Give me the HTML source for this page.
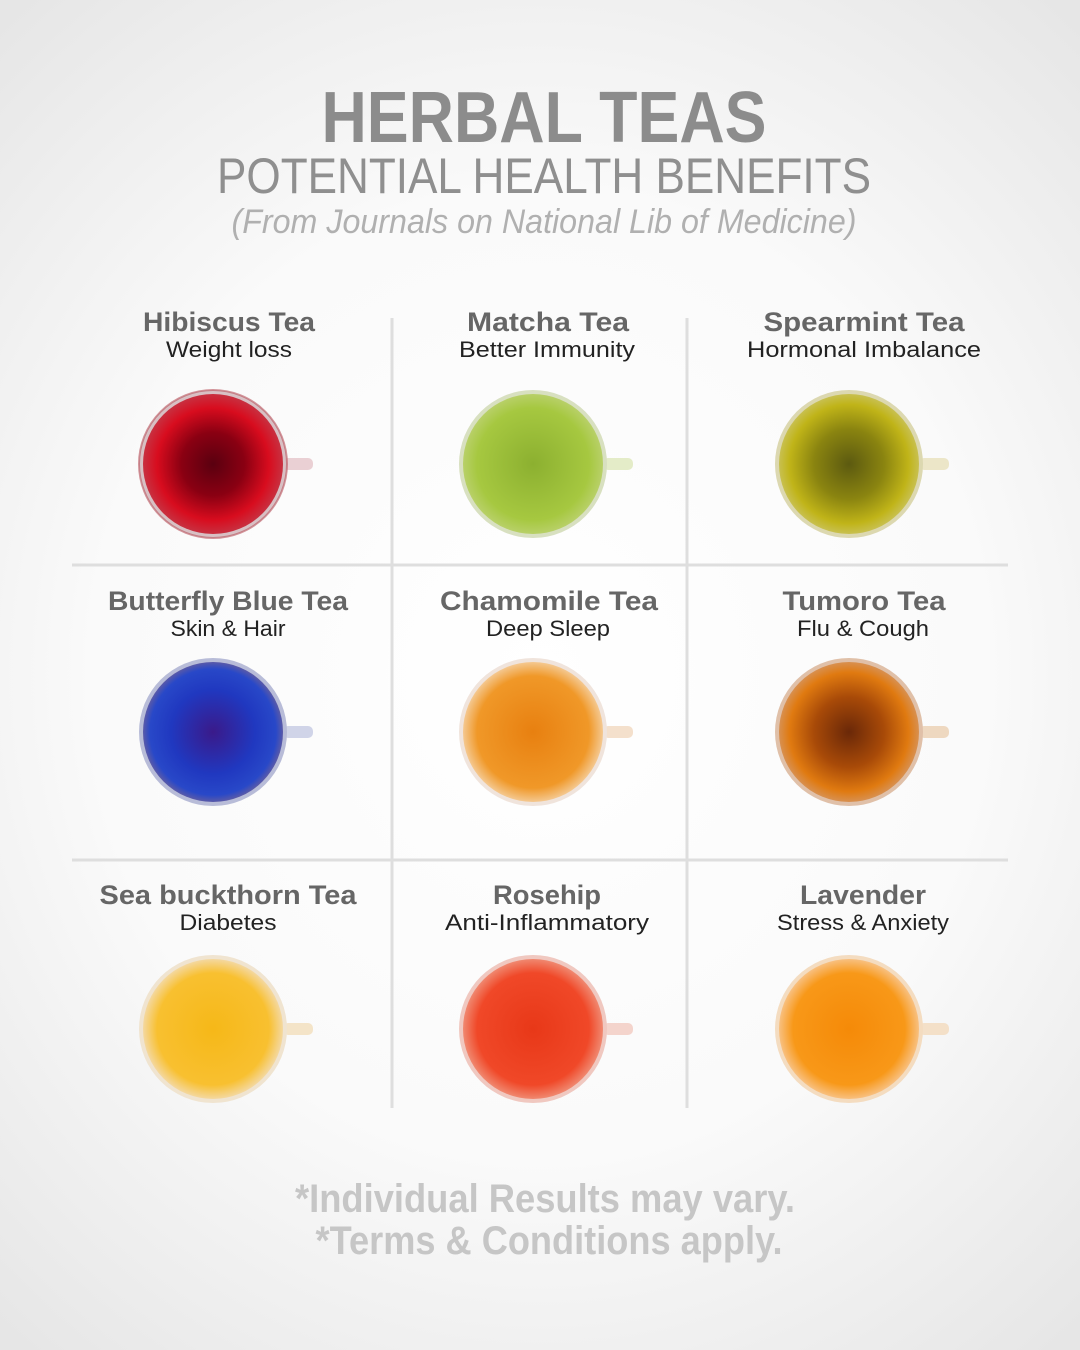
<!DOCTYPE html>
<html><head><meta charset="utf-8"><style>
html,body{margin:0;padding:0;}
body{width:1080px;height:1350px;overflow:hidden;background:radial-gradient(ellipse 75% 65% at 50% 50%,#ffffff 0%,#fafafa 55%,#e6e6e6 100%);}
svg{display:block;}
</style></head><body>
<svg width="1080" height="1350" viewBox="0 0 1080 1350" xmlns="http://www.w3.org/2000/svg" font-family="Liberation Sans, sans-serif">
<defs>
<radialGradient id="g1" cx="50%" cy="50%" r="50%"><stop offset="0" stop-color="#5a0010"/><stop offset="0.45" stop-color="#8a0012"/><stop offset="0.8" stop-color="#d80c1e"/><stop offset="1" stop-color="#c83040"/></radialGradient>
<radialGradient id="g2" cx="50%" cy="50%" r="50%"><stop offset="0" stop-color="#8cb030"/><stop offset="0.8" stop-color="#a6c840"/><stop offset="1" stop-color="#b8d068"/></radialGradient>
<radialGradient id="g3" cx="50%" cy="50%" r="50%"><stop offset="0" stop-color="#5c5a10"/><stop offset="0.5" stop-color="#8a8410"/><stop offset="0.85" stop-color="#c0b418"/><stop offset="1" stop-color="#c8c050"/></radialGradient>
<radialGradient id="g4" cx="50%" cy="50%" r="50%"><stop offset="0" stop-color="#3a1a8a"/><stop offset="0.6" stop-color="#2038c0"/><stop offset="0.9" stop-color="#2848c8"/><stop offset="1" stop-color="#5a5aa8"/></radialGradient>
<radialGradient id="g5" cx="50%" cy="50%" r="50%"><stop offset="0" stop-color="#e88010"/><stop offset="0.8" stop-color="#f09828"/><stop offset="1" stop-color="#f4c890"/></radialGradient>
<radialGradient id="g6" cx="50%" cy="50%" r="50%"><stop offset="0" stop-color="#6a2808"/><stop offset="0.5" stop-color="#a84a08"/><stop offset="0.85" stop-color="#e07a10"/><stop offset="1" stop-color="#d89050"/></radialGradient>
<radialGradient id="g7" cx="50%" cy="50%" r="50%"><stop offset="0" stop-color="#f6b818"/><stop offset="0.8" stop-color="#f8c030"/><stop offset="1" stop-color="#f4d8a0"/></radialGradient>
<radialGradient id="g8" cx="50%" cy="50%" r="50%"><stop offset="0" stop-color="#e83818"/><stop offset="0.8" stop-color="#f04828"/><stop offset="1" stop-color="#f08870"/></radialGradient>
<radialGradient id="g9" cx="50%" cy="50%" r="50%"><stop offset="0" stop-color="#f58a08"/><stop offset="0.8" stop-color="#f89818"/><stop offset="1" stop-color="#f8c080"/></radialGradient>
</defs>

<text x="544" y="142" text-anchor="middle" font-size="72" font-weight="bold" fill="#8c8c8c" textLength="445" lengthAdjust="spacingAndGlyphs">HERBAL TEAS</text>
<text x="544" y="193" text-anchor="middle" font-size="50" fill="#8f8f8f" textLength="654" lengthAdjust="spacingAndGlyphs">POTENTIAL HEALTH BENEFITS</text>
<text x="544" y="233" text-anchor="middle" font-size="34" font-style="italic" fill="#b0b0b0" textLength="625" lengthAdjust="spacingAndGlyphs">(From Journals on National Lib of Medicine)</text>

<g stroke="#dedede" stroke-width="3">
<line x1="392" y1="318" x2="392" y2="1108"/>
<line x1="687" y1="318" x2="687" y2="1108"/>
<line x1="72" y1="565" x2="1008" y2="565"/>
<line x1="72" y1="860" x2="1008" y2="860"/>
</g>

<g font-weight="bold" font-size="27" fill="#666" text-anchor="middle">
<text x="229" y="331" textLength="172" lengthAdjust="spacingAndGlyphs">Hibiscus Tea</text>
<text x="548" y="331" textLength="162" lengthAdjust="spacingAndGlyphs">Matcha Tea</text>
<text x="864" y="331" textLength="201" lengthAdjust="spacingAndGlyphs">Spearmint Tea</text>
<text x="228" y="610" textLength="240" lengthAdjust="spacingAndGlyphs">Butterfly Blue Tea</text>
<text x="549" y="610" textLength="218" lengthAdjust="spacingAndGlyphs">Chamomile Tea</text>
<text x="864" y="610" textLength="163" lengthAdjust="spacingAndGlyphs">Tumoro Tea</text>
<text x="228" y="904" textLength="257" lengthAdjust="spacingAndGlyphs">Sea buckthorn Tea</text>
<text x="547" y="904" textLength="108" lengthAdjust="spacingAndGlyphs">Rosehip</text>
<text x="863" y="904" textLength="126" lengthAdjust="spacingAndGlyphs">Lavender</text>
</g>
<g font-size="22" fill="#222" text-anchor="middle">
<text x="229" y="357" textLength="126" lengthAdjust="spacingAndGlyphs">Weight loss</text>
<text x="547" y="357" textLength="176" lengthAdjust="spacingAndGlyphs">Better Immunity</text>
<text x="864" y="357" textLength="234" lengthAdjust="spacingAndGlyphs">Hormonal Imbalance</text>
<text x="228" y="636" textLength="115" lengthAdjust="spacingAndGlyphs">Skin &amp; Hair</text>
<text x="548" y="636" textLength="124" lengthAdjust="spacingAndGlyphs">Deep Sleep</text>
<text x="863" y="636" textLength="132" lengthAdjust="spacingAndGlyphs">Flu &amp; Cough</text>
<text x="228" y="930" textLength="97" lengthAdjust="spacingAndGlyphs">Diabetes</text>
<text x="547" y="930" textLength="204" lengthAdjust="spacingAndGlyphs">Anti-Inflammatory</text>
<text x="863" y="930" textLength="172" lengthAdjust="spacingAndGlyphs">Stress &amp; Anxiety</text>
</g>

<!-- cups -->
<g id="cups">
<g transform="translate(213,464)"><rect x="70" y="-6" width="30" height="12" rx="5" fill="#ead0d4"/><circle r="74" fill="#d8c0c4"/><circle r="70" fill="url(#g1)"/><circle r="74" fill="none" stroke="#b8505a" stroke-width="2" opacity=".6"/></g>
<g transform="translate(533,464)"><rect x="70" y="-6" width="30" height="12" rx="5" fill="#e4ecc8"/><circle r="74" fill="#d8e0c0"/><circle r="70" fill="url(#g2)"/></g>
<g transform="translate(849,464)"><rect x="70" y="-6" width="30" height="12" rx="5" fill="#ece6c8"/><circle r="74" fill="#dcd8b0"/><circle r="70" fill="url(#g3)"/></g>
<g transform="translate(213,732)"><rect x="70" y="-6" width="30" height="12" rx="5" fill="#d0d4e8"/><circle r="74" fill="#b8bcd8"/><circle r="70" fill="url(#g4)"/></g>
<g transform="translate(533,732)"><rect x="70" y="-6" width="30" height="12" rx="5" fill="#f4e0cc"/><circle r="74" fill="#f0e4dc"/><circle r="70" fill="url(#g5)"/></g>
<g transform="translate(849,732)"><rect x="70" y="-6" width="30" height="12" rx="5" fill="#eed8c0"/><circle r="74" fill="#e0c0a8"/><circle r="70" fill="url(#g6)"/></g>
<g transform="translate(213,1029)"><rect x="70" y="-6" width="30" height="12" rx="5" fill="#f4e4c8"/><circle r="74" fill="#f0e4d0"/><circle r="70" fill="url(#g7)"/></g>
<g transform="translate(533,1029)"><rect x="70" y="-6" width="30" height="12" rx="5" fill="#f4d4cc"/><circle r="74" fill="#f0c8c0"/><circle r="70" fill="url(#g8)"/></g>
<g transform="translate(849,1029)"><rect x="70" y="-6" width="30" height="12" rx="5" fill="#f4e0c8"/><circle r="74" fill="#f4dcc0"/><circle r="70" fill="url(#g9)"/></g>
</g>

<g font-size="40" font-weight="bold" fill="#c6c6c6" text-anchor="middle">
<text x="545" y="1212" textLength="500" lengthAdjust="spacingAndGlyphs">*Individual Results may vary.</text>
<text x="549" y="1254" textLength="467" lengthAdjust="spacingAndGlyphs">*Terms &amp; Conditions apply.</text>
</g>
</svg>
</body></html>
